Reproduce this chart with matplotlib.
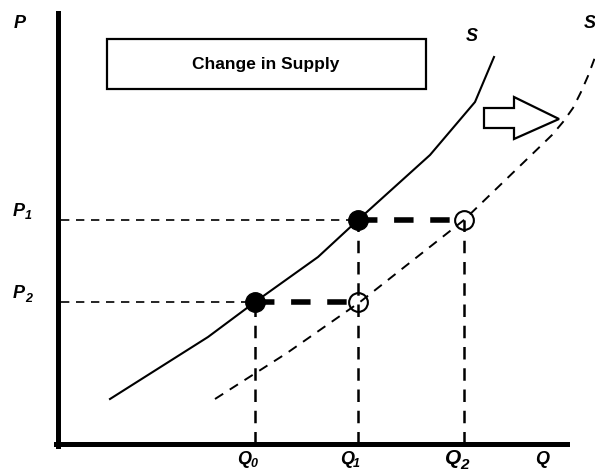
import matplotlib
matplotlib.use('Agg')
import matplotlib.pyplot as plt
from matplotlib.patches import Rectangle, Polygon

plt.rcParams['font.family'] = ['Liberation Sans', 'DejaVu Sans']

# quantity / price levels (abstract units, origin at the axis corner)
q_levels = [197, 300, 406]
p_levels = [224, 142]

# original supply curve S
s_q = [52, 150, 197, 260, 300, 372, 417, 436]
s_p = [45, 107, 142, 187, 224, 289, 342, 387]

# shifted supply curve S'
s2_q = [157, 229, 302, 406, 494, 505, 515, 523, 530, 536, 541]
s2_p = [45, 91, 142, 224, 309, 322, 336, 352, 368, 384, 400]

# equilibrium points
filled_q = [q_levels[0], q_levels[1]]
filled_p = [p_levels[1], p_levels[0]]
open_q = [q_levels[1], q_levels[2]]
open_p = [p_levels[1], p_levels[0]]

fig = plt.figure(figsize=(5.95, 4.74), dpi=100)
ax = fig.add_axes([0, 0, 1, 1])
ax.set_xlim(-58, 537)
ax.set_ylim(-30, 444)
ax.set_xticks([])
ax.set_yticks([])
for side in ['top', 'right']:
    ax.spines[side].set_visible(False)
ax.spines['left'].set_position(('data', 0))
ax.spines['bottom'].set_position(('data', 0))
ax.spines['left'].set_bounds(-2, 431)
ax.spines['bottom'].set_bounds(-2, 509)
ax.spines['left'].set_linewidth(3.6)
ax.spines['bottom'].set_linewidth(3.6)

# curves
ax.plot(s_q, s_p, color='black', lw=1.5, zorder=3)
ax.plot(s2_q, s2_p, color='black', lw=1.4, dashes=(5, 4), zorder=3)

# thin guide lines to the price axis
ax.plot([3, q_levels[1]], [p_levels[0]] * 2, color='black', lw=1.2, dashes=(5, 4))
ax.plot([3, q_levels[0]], [p_levels[1]] * 2, color='black', lw=1.2, dashes=(5, 4))

# thick dashed shift segments
ax.plot([q_levels[1], q_levels[2]], [p_levels[0]] * 2, color='black', lw=4, dashes=(3.5, 3))
ax.plot([q_levels[0], q_levels[1]], [p_levels[1]] * 2, color='black', lw=4, dashes=(3.5, 3))

# vertical guide lines to the quantity axis
ax.plot([q_levels[0]] * 2, [0, p_levels[1]], color='black', lw=1.8, dashes=(5, 3.5))
ax.plot([q_levels[1]] * 2, [0, p_levels[0]], color='black', lw=1.8, dashes=(5, 3.5))
ax.plot([q_levels[2]] * 2, [0, p_levels[0]], color='black', lw=1.8, dashes=(5, 3.5))

ax.plot(filled_q, filled_p, 'o', color='black', ms=14, zorder=5)
ax.plot(open_q, open_p, 'o', mfc='none', mec='black', mew=1.5, ms=13.5, zorder=5)

# title box
ax.add_patch(Rectangle((49, 355), 319, 50, fill=False, lw=1.6, ec='black'))
ax.text(208, 380, 'Change in Supply', ha='center', va='center',
        fontsize=12.5, fontweight='bold')

# hollow arrow
arrow_pts = [(426, 316), (456, 316), (456, 305), (501, 325),
             (456, 347), (456, 336), (426, 336)]
ax.add_patch(Polygon(arrow_pts, closed=True, fill=False, lw=1.6, ec='black'))


def label(x, y, main, sub='', size=13, subsize=9, drop=0.3):
    ax.text(x, y, main, ha='center', va='center', fontsize=size,
            fontweight='bold', style='italic')
    if sub:
        ax.annotate(sub, (x, y), xytext=(size * 0.34, -size * drop),
                    textcoords='offset points', ha='left', va='center',
                    fontsize=subsize, fontweight='bold', style='italic')


label(-38, 421, 'P')
label(-39, 233, 'P', '1')
label(-39, 150, 'P', '2')
label(186, -15, 'Q', '0')
label(289, -15, 'Q', '1')
label(395, -14, 'Q', '2', size=15, subsize=11, drop=0.35)
label(484, -15, 'Q')
label(414, 408, 'S')
label(532, 421, 'S')

fig.savefig('out.png', dpi=100)
